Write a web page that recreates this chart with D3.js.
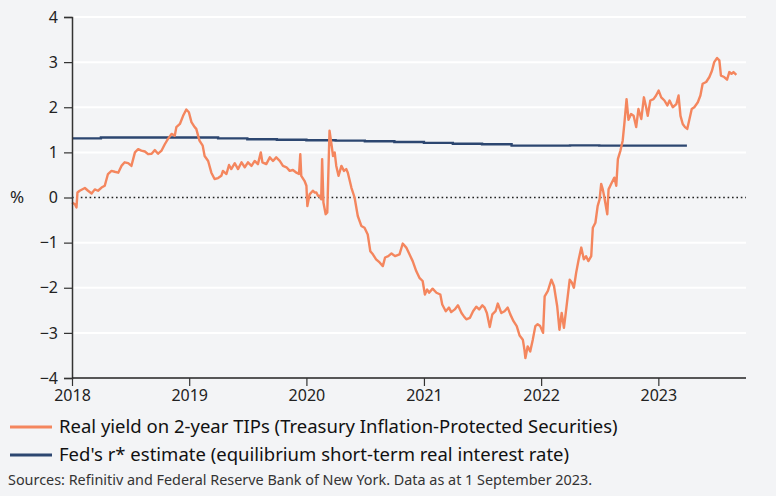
<!DOCTYPE html>
<html>
<head>
<meta charset="utf-8">
<script src="https://cdn.jsdelivr.net/npm/d3@7"></script>
<style>
  body { margin: 0; background: #f3f4f6; }
  svg { display: block; font-family: "Noto Sans", sans-serif; }
</style>
</head>
<body>
<script>
// Real yield on 2-year TIPs, %
var tipsDates = [
  "2018-01-01","2018-01-10","2018-01-15","2018-01-18","2018-01-25","2018-02-10","2018-02-20","2018-03-03","2018-03-13","2018-03-23",
  "2018-04-03","2018-04-13","2018-04-23","2018-05-04","2018-05-14","2018-05-25","2018-06-04","2018-06-14","2018-06-25","2018-07-05",
  "2018-07-16","2018-07-26","2018-08-05","2018-08-16","2018-08-26","2018-09-06","2018-09-16","2018-09-26","2018-10-07","2018-10-17",
  "2018-10-27","2018-11-07","2018-11-17","2018-11-22","2018-12-03","2018-12-13","2018-12-23","2018-12-31",
  "2019-01-08","2019-01-18","2019-01-23","2019-02-02","2019-02-12","2019-02-18","2019-03-01","2019-03-11","2019-03-21","2019-04-01",
  "2019-04-11","2019-04-16","2019-04-27","2019-05-05","2019-05-12","2019-05-23","2019-06-02","2019-06-13","2019-06-23","2019-07-03",
  "2019-07-14","2019-07-24","2019-08-03","2019-08-12","2019-08-17","2019-08-29","2019-09-09","2019-09-19","2019-09-29","2019-10-10",
  "2019-10-20","2019-10-31","2019-11-10","2019-11-20","2019-12-01","2019-12-09","2019-12-13","2019-12-16","2019-12-26",
  "2020-01-01","2020-01-04","2020-01-11","2020-01-21","2020-01-27","2020-02-01","2020-02-06","2020-02-11","2020-02-16","2020-02-19",
  "2020-02-23","2020-03-01","2020-03-06","2020-03-13","2020-03-19","2020-03-24","2020-03-29","2020-04-03","2020-04-10","2020-04-19",
  "2020-04-27","2020-05-04","2020-05-09","2020-05-20","2020-05-30","2020-06-09","2020-06-20","2020-06-30","2020-07-10","2020-07-18",
  "2020-07-26","2020-08-05","2020-08-16","2020-08-26","2020-09-02","2020-09-12","2020-09-22","2020-10-03","2020-10-17","2020-10-27",
  "2020-11-07","2020-11-17","2020-11-27","2020-12-08","2020-12-18","2020-12-28",
  "2021-01-04","2021-01-11","2021-01-17","2021-01-28","2021-02-09","2021-02-21","2021-02-27","2021-03-10","2021-03-20","2021-03-27",
  "2021-04-07","2021-04-17","2021-04-28","2021-05-05","2021-05-13","2021-05-24","2021-06-03","2021-06-13","2021-06-22","2021-07-02",
  "2021-07-09","2021-07-16","2021-07-25","2021-08-02","2021-08-12","2021-08-19","2021-08-30","2021-09-09","2021-09-19","2021-09-27",
  "2021-10-07","2021-10-17","2021-10-26","2021-11-05","2021-11-10","2021-11-13","2021-11-20","2021-11-28","2021-12-06","2021-12-14",
  "2021-12-21","2021-12-29",
  "2022-01-07","2022-01-12","2022-01-22","2022-02-02","2022-02-10","2022-02-20","2022-02-27","2022-03-06","2022-03-13","2022-03-20",
  "2022-03-31","2022-04-07","2022-04-13","2022-04-20","2022-04-28","2022-05-06","2022-05-14","2022-05-21","2022-05-28","2022-06-06",
  "2022-06-11","2022-06-19","2022-06-26","2022-07-02","2022-07-07","2022-07-12","2022-07-17","2022-07-26","2022-07-30","2022-08-07",
  "2022-08-17","2022-08-23","2022-08-28","2022-09-05","2022-09-12","2022-09-18","2022-09-24","2022-09-30","2022-10-08","2022-10-16",
  "2022-10-24","2022-10-31","2022-11-09","2022-11-17","2022-11-24","2022-11-29","2022-12-07","2022-12-17","2022-12-25",
  "2023-01-02","2023-01-10","2023-01-20","2023-01-29","2023-02-05","2023-02-15","2023-02-26","2023-03-05","2023-03-11","2023-03-18",
  "2023-03-25","2023-04-01","2023-04-08","2023-04-15","2023-04-23","2023-05-04","2023-05-12","2023-05-19","2023-05-30","2023-06-09",
  "2023-06-17","2023-06-24","2023-07-03","2023-07-10","2023-07-15","2023-07-25","2023-08-03","2023-08-10","2023-08-17","2023-08-23",
  "2023-09-01"
];
var tipsValues = [
  -0.11,-0.15,-0.22,0.11,0.15,0.21,0.15,0.09,0.18,0.15,
  0.22,0.26,0.52,0.59,0.57,0.55,0.70,0.78,0.76,0.70,
  1.00,1.07,1.04,1.02,0.96,0.97,1.05,0.97,1.04,1.18,
  1.30,1.41,1.37,1.56,1.63,1.81,1.95,1.89,
  1.67,1.56,1.52,1.26,1.15,0.92,0.81,0.55,0.41,0.43,
  0.48,0.59,0.52,0.72,0.63,0.76,0.63,0.78,0.67,0.78,
  0.70,0.81,0.74,1.00,0.78,0.74,0.89,0.81,0.89,0.81,
  0.70,0.67,0.59,0.61,0.55,0.52,0.96,0.48,0.37,
  0.26,-0.19,0.07,0.15,0.11,0.11,0.04,0.04,-0.04,0.85,
  -0.11,-0.37,-0.33,1.48,1.18,0.92,1.00,0.70,0.48,0.70,
  0.59,0.63,0.55,0.22,0.00,-0.41,-0.63,-0.67,-0.82,-1.19,
  -1.26,-1.37,-1.44,-1.52,-1.33,-1.30,-1.24,-1.30,-1.26,-1.02,
  -1.11,-1.26,-1.41,-1.63,-1.78,-1.85,
  -2.15,-2.04,-2.11,-2.02,-2.11,-2.15,-2.37,-2.52,-2.44,-2.54,
  -2.48,-2.39,-2.56,-2.63,-2.70,-2.67,-2.52,-2.42,-2.48,-2.39,
  -2.44,-2.56,-2.87,-2.59,-2.52,-2.35,-2.56,-2.52,-2.44,-2.59,
  -2.74,-2.85,-3.06,-3.15,-3.37,-3.56,-3.30,-3.41,-3.15,-2.85,
  -2.81,-2.85,
  -3.00,-2.19,-2.07,-1.82,-1.96,-2.41,-2.93,-2.56,-2.89,-2.48,
  -1.82,-1.89,-2.00,-1.67,-1.37,-1.11,-1.37,-1.30,-1.41,-1.30,
  -0.67,-0.56,-0.19,-0.04,0.30,0.18,0.00,-0.37,0.18,0.30,
  0.44,0.26,0.85,1.04,1.26,1.70,2.18,1.72,1.85,1.81,
  1.56,1.96,1.74,2.22,2.00,1.81,2.15,2.18,2.26,
  2.37,2.22,2.15,2.04,2.15,2.00,2.07,2.26,1.81,1.63,
  1.56,1.52,1.74,1.96,2.00,2.11,2.26,2.52,2.56,2.67,
  2.81,3.00,3.09,3.04,2.70,2.67,2.61,2.78,2.74,2.78,
  2.72
];
// Fed's r* estimate, quarterly, %
var rstarDates = [
  "2018-01-01","2018-04-01","2018-07-01","2018-10-01","2019-01-01","2019-04-01","2019-07-01","2019-10-01",
  "2020-01-01","2020-04-01","2020-07-01","2020-10-01","2021-01-01","2021-04-01","2021-07-01","2021-10-01",
  "2022-01-01","2022-04-01","2022-07-01","2022-10-01","2023-01-01","2023-03-31"
];
var rstarValues = [
  1.31,1.33,1.33,1.33,1.33,1.31,1.29,1.28,
  1.27,1.26,1.245,1.23,1.21,1.19,1.18,1.15,
  1.15,1.155,1.15,1.15,1.15,1.15
];
var yTicks = [-4, -3, -2, -1, 0, 1, 2, 3, 4];
var xTickYears = [2018, 2019, 2020, 2021, 2022, 2023];
var legendLabels = [
  "Real yield on 2-year TIPs (Treasury Inflation-Protected Securities)",
  "Fed's r* estimate (equilibrium short-term real interest rate)"
];
var sourceText = "Sources: Refinitiv and Federal Reserve Bank of New York. Data as at 1 September 2023.";

var W = 776, H = 496;
var margin = { top: 17, right: 30, bottom: 118, left: 72 };
var orange = "#f4865e", navy = "#2c4670";

function dibujar() {
  var parse = d3.timeParse("%Y-%m-%d");
  var tips = tipsDates.map(function (d, i) { return { date: parse(d), value: tipsValues[i] }; });
  var rstar = rstarDates.map(function (d, i) { return { date: parse(d), value: rstarValues[i] }; });

  var svg = d3.select("body").append("svg").attr("width", W).attr("height", H);
  svg.append("rect").attr("width", W).attr("height", H).attr("fill", "#f3f4f6");

  var x = d3.scaleTime()
    .domain([new Date(2018, 0, 1), new Date(2023, 9, 1)])
    .range([margin.left, W - margin.right]);
  var y = d3.scaleLinear().domain([-4, 4]).range([H - margin.bottom, margin.top]);

  // gridlines
  svg.append("g").selectAll("line").data(yTicks.filter(function (t) { return t != 0 && t != -4; }))
    .enter().append("line")
    .attr("x1", x.range()[0]).attr("x2", x.range()[1])
    .attr("y1", function (d) { return y(d); }).attr("y2", function (d) { return y(d); })
    .attr("stroke", "#ffffff").attr("stroke-width", 2);

  // zero line, dotted
  svg.append("line")
    .attr("x1", x.range()[0]).attr("x2", x.range()[1])
    .attr("y1", y(0)).attr("y2", y(0))
    .attr("stroke", "#222").attr("stroke-width", 1.6)
    .attr("stroke-dasharray", "1.6,2.8");

  var line = d3.line().x(function (d) { return x(d.date); }).y(function (d) { return y(d.value); });

  svg.append("path").datum(rstar)
    .attr("d", line.curve(d3.curveStepAfter))
    .attr("fill", "none").attr("stroke", navy).attr("stroke-width", 2.4);

  svg.append("path").datum(tips)
    .attr("d", d3.line().x(function (d) { return x(d.date); }).y(function (d) { return y(d.value); }))
    .attr("fill", "none").attr("stroke", orange).attr("stroke-width", 2.4)
    .attr("stroke-linejoin", "round");

  // axes
  var yAxis = svg.append("g").attr("transform", "translate(" + margin.left + ",0)")
    .call(d3.axisLeft(y).tickValues(yTicks).tickSize(8).tickPadding(6));
  yAxis.select(".domain").attr("stroke", "#333").attr("stroke-width", 1.5);
  yAxis.selectAll(".tick line").attr("stroke", "#333").attr("stroke-width", 1.2);
  yAxis.selectAll("text").attr("fill", "#222").style("font-size", "16px").attr("font-family", "'Noto Sans', sans-serif");

  var xAxis = svg.append("g").attr("transform", "translate(0," + (H - margin.bottom) + ")")
    .call(d3.axisBottom(x)
      .tickValues(xTickYears.map(function (yr) { return new Date(yr, 0, 1); }))
      .tickFormat(d3.timeFormat("%Y")).tickSize(8).tickPadding(4));
  xAxis.select(".domain").attr("stroke", "#222").attr("stroke-width", 1.5).attr("d", "M" + x.range()[0] + ",0H" + x.range()[1]);
  xAxis.selectAll(".tick line").attr("stroke", "#333").attr("stroke-width", 1.2);
  xAxis.selectAll("text").attr("fill", "#222").style("font-size", "16px").attr("font-family", "'Noto Sans', sans-serif");

  svg.append("text").attr("x", 17).attr("y", y(0)).attr("dy", "0.35em")
    .attr("text-anchor", "middle").attr("fill", "#222")
    .style("font-size", "17px").style("font-family", "'Noto Sans', sans-serif").text("%");

  // legend
  var colores = [orange, navy];
  var leyenda = svg.append("g").selectAll("g").data(legendLabels).enter().append("g")
    .attr("transform", function (d, i) { return "translate(0," + (427 + i * 28) + ")"; });
  leyenda.append("line").attr("x1", 10).attr("x2", 52)
    .attr("stroke", function (d, i) { return colores[i]; }).attr("stroke-width", 2.8);
  leyenda.append("text").attr("x", 59).attr("dy", "0.35em").attr("fill", "#111")
    .style("font-size", "18.5px").style("font-family", "'Noto Sans', sans-serif")
    .text(function (d) { return d; });

  svg.append("text").attr("x", 8).attr("y", 480).attr("dy", "0.35em").attr("fill", "#333")
    .style("font-size", "14.4px").style("font-family", "'Noto Sans', sans-serif").text(sourceText);
}
window.onload = function () { dibujar(); };
</script>
</body>
</html>
